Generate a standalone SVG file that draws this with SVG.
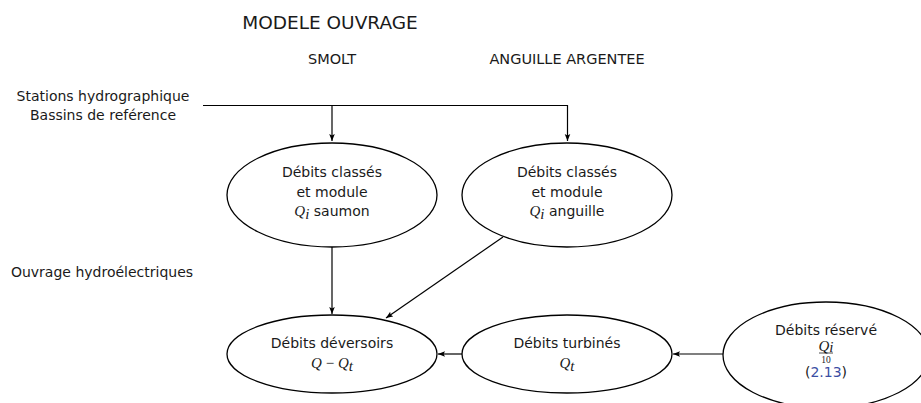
<svg xmlns="http://www.w3.org/2000/svg" width="921" height="403" viewBox="0 0 921 403">
<defs>
<marker id="ah" viewBox="0 0 10 10" refX="10" refY="5" markerWidth="7" markerHeight="7" markerUnits="userSpaceOnUse" orient="auto">
<path d="M0,1 L10,5 L0,9 L2,5 Z" fill="#000"/>
</marker>
</defs>
<style>
text{font-family:"DejaVu Sans","Liberation Sans",sans-serif;font-size:14px;fill:#1a1a1a;text-anchor:middle}
.m{font-family:"Liberation Serif","DejaVu Serif",serif;font-style:italic;font-size:15px}
.n{font-family:"Liberation Serif","DejaVu Serif",serif;font-size:15px}
.node ellipse{fill:#fff;stroke:#000;stroke-width:1.3}
.conn path{fill:none;stroke:#000;stroke-width:1.2}
.blue{fill:#3b4ea3}
</style>
<rect width="921" height="403" fill="#fff"/>
<text x="330" y="29" style="font-size:18.5px">MODELE OUVRAGE</text>
<text x="332" y="64" style="font-size:14.5px">SMOLT</text>
<text x="567" y="64" style="font-size:14.5px">ANGUILLE ARGENTEE</text>
<text x="103" y="101">Stations hydrographique</text>
<text x="103" y="120">Bassins de reférence</text>
<text x="102" y="277">Ouvrage hydroélectriques</text>
<g class="conn">
<path d="M203,105.5 H567.5 V141" marker-end="url(#ah)"/>
<path d="M332,105.5 V141" marker-end="url(#ah)"/>
<path d="M332,247 V314" marker-end="url(#ah)"/>
<path d="M503,237 L386,318" marker-end="url(#ah)"/>
<path d="M463,354 H438" marker-end="url(#ah)"/>
<path d="M723,354 H673" marker-end="url(#ah)"/>
</g>
<g id="n-saumon" class="node">
<ellipse cx="332" cy="195" rx="105" ry="52"/>
<text x="332" y="177">Débits classés</text>
<text x="332" y="197">et module</text>
<text x="332" y="216"><tspan class="m">Q</tspan><tspan class="m" font-size="10.5" dy="3">i</tspan><tspan dy="-3"> saumon</tspan></text>
</g>
<g id="n-anguille" class="node">
<ellipse cx="567" cy="195" rx="105" ry="52"/>
<text x="567" y="177">Débits classés</text>
<text x="567" y="197">et module</text>
<text x="567" y="216"><tspan class="m">Q</tspan><tspan class="m" font-size="10.5" dy="3">i</tspan><tspan dy="-3"> anguille</tspan></text>
</g>
<g id="n-deversoirs" class="node">
<ellipse cx="332" cy="354" rx="105" ry="39"/>
<text x="332" y="348">Débits déversoirs</text>
<text x="332" y="368"><tspan class="m">Q</tspan><tspan class="n"> − </tspan><tspan class="m">Q</tspan><tspan class="m" font-size="10.5" dy="3">t</tspan></text>
</g>
<g id="n-turbines" class="node">
<ellipse cx="567" cy="354" rx="105" ry="39"/>
<text x="567" y="348">Débits turbinés</text>
<text x="567" y="368"><tspan class="m">Q</tspan><tspan class="m" font-size="10.5" dy="3">t</tspan></text>
</g>
<g id="n-reserve" class="node">
<ellipse cx="826" cy="355" rx="103" ry="53"/>
<text x="826" y="335">Débits réservé</text>
<text x="826" y="350.5"><tspan class="m" font-size="9">Q</tspan><tspan class="m" font-size="6.5" dy="1.5">i</tspan></text>
<path d="M819,353 H833" stroke="#000" stroke-width="0.7"/>
<text x="826" y="362.5" class="n" style="font-size:9.5px">10</text>
<text x="826" y="377">(<tspan class="blue">2.13</tspan>)</text>
</g>
</svg>
